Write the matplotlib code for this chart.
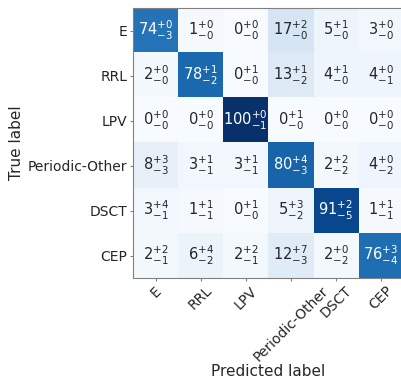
import matplotlib
matplotlib.use("Agg")
import matplotlib.pyplot as plt
import numpy as np

labels = ["E", "RRL", "LPV", "Periodic-Other", "DSCT", "CEP"]
# median percentages (rows = true, cols = predicted)
vals = np.array([
    [74, 1, 0, 17, 5, 3],
    [2, 78, 0, 13, 4, 4],
    [0, 0, 100, 0, 0, 0],
    [8, 3, 3, 80, 2, 4],
    [3, 1, 0, 5, 91, 1],
    [2, 6, 2, 12, 2, 76],
])
# upper errors
up = np.array([
    [0, 0, 0, 2, 1, 0],
    [0, 1, 1, 1, 1, 0],
    [0, 0, 0, 1, 0, 0],
    [3, 1, 1, 4, 2, 0],
    [4, 1, 1, 3, 2, 1],
    [2, 4, 2, 7, 0, 3],
])
# lower errors
lo = np.array([
    [3, 0, 0, 0, 0, 0],
    [0, 2, 0, 2, 0, 1],
    [0, 0, 1, 0, 0, 0],
    [3, 1, 1, 3, 2, 2],
    [1, 1, 0, 2, 5, 1],
    [1, 2, 1, 3, 2, 4],
])

txt = "#262626"
fig = plt.figure(figsize=(4.02, 3.83), dpi=100)
ax = fig.add_axes([0.331, 0.274, 0.672, 0.705])
ax.imshow(vals, cmap="Blues", vmin=0, vmax=100, aspect="auto")

for i in range(len(labels)):
    for j in range(len(labels)):
        c = "white" if vals[i, j] > 50 else txt
        ax.text(j, i, r"$%d^{+%d}_{-%d}$" % (vals[i, j], up[i, j], lo[i, j]),
                ha="center", va="center", color=c, fontsize=10.5)

ax.set_xticks(range(len(labels)))
ax.set_yticks(range(len(labels)))
ax.set_xticklabels(labels, rotation=45, fontsize=10, color=txt)
ax.set_yticklabels(labels, fontsize=10, color=txt)
ax.tick_params(length=2.5, width=0.8, pad=1.5, color="#808080")
ax.set_xlabel("Predicted label", fontsize=11, labelpad=0, color=txt)
ax.set_ylabel("True label", fontsize=11, labelpad=3, color=txt)
for s in ax.spines.values():
    s.set_color("#808080")

fig.savefig("out.png", dpi=100)
